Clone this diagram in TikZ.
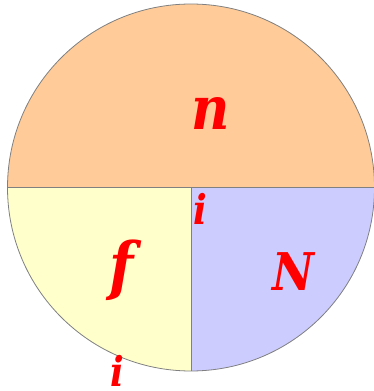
\documentclass[tikz,border=0pt]{standalone}
\usepackage{fontspec}
\setmainfont{DejaVu Serif}
\newfontfamily\lblfont{DejaVu Serif}[FakeStretch=0.88]
\usetikzlibrary{calc}

\begin{document}
\begin{tikzpicture}[x=1pt, y=1pt,
  part/.style={draw=gray, line width=0.8pt},
  lbl/.style={text=red, anchor=base, inner sep=0pt}]
  \useasboundingbox (0,0) rectangle (374,391);
  % Kreis: Mitte (191,203.5), Radius 183.5
  \coordinate (O) at (191,203.5);
  \def\r{183.5}

  \fill[fill={rgb,255:red,255;green,204;blue,153}] ($(O)+(\r,0)$) arc[start angle=0, end angle=180, radius=\r] -- cycle;
  \fill[fill={rgb,255:red,255;green,255;blue,204}] (O) -- ($(O)+(-\r,0)$) arc[start angle=180, end angle=270, radius=\r] -- cycle;
  \fill[fill={rgb,255:red,204;green,204;blue,255}] (O) -- ($(O)+(0,-\r)$) arc[start angle=270, end angle=360, radius=\r] -- cycle;

  \draw[part] (O) circle[radius=\r];
  \draw[part] ($(O)+(-\r,0)$) -- ($(O)+(\r,0)$);
  \draw[part] (O) -- ($(O)+(0,-\r)$);

  \node[lbl, font=\lblfont\bfseries\itshape\fontsize{60}{60}\selectfont] (n) at (211,261) {n};
  \node[lbl, font=\lblfont\bfseries\itshape\fontsize{41}{41}\selectfont] (i1) at (200,166) {i};
  \node[lbl, font=\lblfont\bfseries\itshape\fontsize{64}{64}\selectfont] (f) at (122,102) {f};
  \node[lbl, font=\lblfont\bfseries\itshape\fontsize{52}{52}\selectfont] (N) at (293,100) {N};
  \node[lbl, font=\lblfont\bfseries\itshape\fontsize{41}{41}\selectfont] (i2) at (117,5) {i};
\end{tikzpicture}
\end{document}
